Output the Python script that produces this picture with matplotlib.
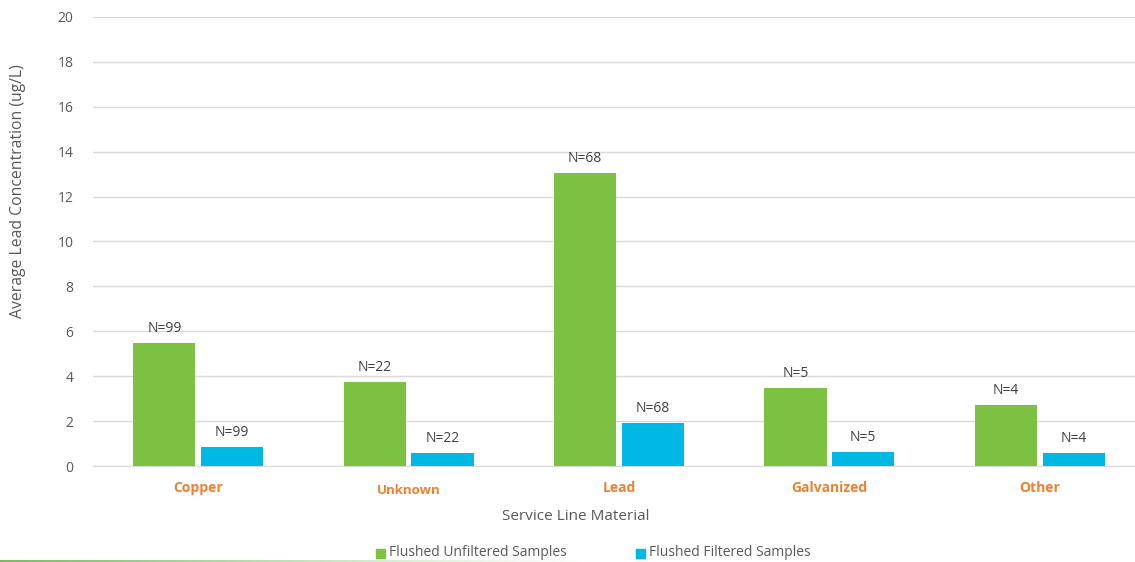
import numpy as np
import matplotlib
matplotlib.use("Agg")
import matplotlib.pyplot as plt
from matplotlib.collections import LineCollection
from matplotlib.patches import Rectangle

plt.rcParams["font.family"] = ["Open Sans", "DejaVu Sans"]

# data
materials = ["Copper", "Unknown", "Lead", "Galvanized", "Other"]
unfiltered = [5.47, 3.73, 13.07, 3.46, 2.72]
filtered = [0.86, 0.57, 1.90, 0.64, 0.59]
n_unfiltered = [99, 22, 68, 5, 4]
n_filtered = [99, 22, 68, 5, 4]
series_names = ["Flushed Unfiltered Samples", "Flushed Filtered Samples"]

green = "#7DC142"
blue = "#00B8E4"
orange = "#F08030"
grey_text = "#595959"

W, H = 1135, 562
fig = plt.figure(figsize=(W / 100, H / 100), dpi=100)
ax = fig.add_axes([93 / W, 1 - 466 / H, 1052 / W, 449 / H])

x = np.arange(len(materials))
bw = 0.295
off = 0.161
b1 = ax.bar(x - off, unfiltered, bw, color=green, zorder=3)
b2 = ax.bar(x + off, filtered, bw, color=blue, zorder=3)

for bars, ns in ((b1, n_unfiltered), (b2, n_filtered)):
    for r, n in zip(bars, ns):
        ax.annotate("N=%d" % n, (r.get_x() + r.get_width() / 2, r.get_height()),
                    xytext=(0, 5), textcoords="offset points", ha="center",
                    va="bottom", fontsize=10, color="#404040")

ax.set_ylim(0, 20)
ax.set_xlim(-0.5, len(materials) - 0.5)
ax.set_yticks(range(0, 21, 2))
ax.grid(axis="y", color="#D9D9D9", linewidth=1, zorder=0)
for s in ["top", "right", "left"]:
    ax.spines[s].set_visible(False)
ax.spines["bottom"].set_color("#D9D9D9")
ax.tick_params(axis="y", length=0, labelsize=10, labelcolor=grey_text, pad=14)
ax.tick_params(axis="x", length=0)
ax.set_xticks(x)
ax.set_xticklabels([])

# category labels, orange bold ("Unknown" sits a bit lower and smaller)
for i, m in enumerate(materials):
    dy = -15.5 if m != "Unknown" else -17.5
    fs = 10 if m != "Unknown" else 9.5
    ax.annotate(m, (i, 0), xytext=(0, dy), textcoords="offset points",
                ha="center", va="center", fontsize=fs, fontweight="bold",
                color=orange, annotation_clip=False)

fig.text(576 / W, 1 - 517 / H, "Service Line Material", ha="center", va="center",
         fontsize=11, color=grey_text)
fig.text(18 / W, 1 - 191 / H, "Average Lead Concentration (ug/L)", ha="center",
         va="center", rotation=90, fontsize=11.3, color=grey_text)

# legend drawn by hand to match placement
for px, col, name in ((376, green, series_names[0]), (636, blue, series_names[1])):
    fig.add_artist(Rectangle((px / W, 1 - 558 / H), 9 / W, 9 / H, color=col,
                             transform=fig.transFigure))
    fig.text((px + 13) / W, 1 - 553 / H, name, ha="left", va="center",
             fontsize=10, color=grey_text)

# faded green line at the bottom edge
xs = np.linspace(0, 600, 120)
segs = [[(xs[i] / W, 1 - 561 / H), (xs[i + 1] / W, 1 - 561 / H)] for i in range(len(xs) - 1)]
alphas = np.linspace(1, 0, len(segs)) ** 1.2
cols = [(0.49, 0.72, 0.40, a) for a in alphas]
lc = LineCollection(segs, colors=cols, linewidths=1.5, transform=fig.transFigure)
fig.add_artist(lc)

fig.savefig("out.png", dpi=100)
